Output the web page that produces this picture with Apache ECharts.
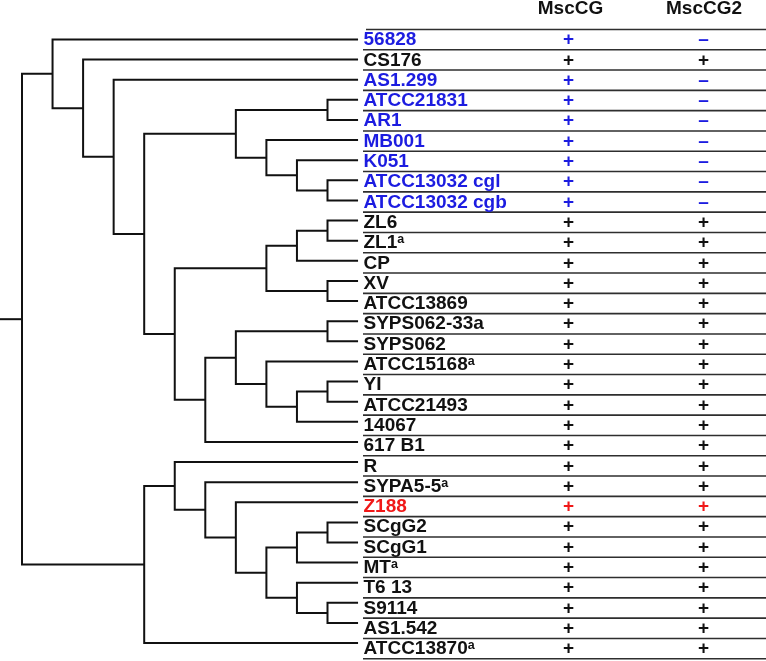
<!DOCTYPE html>
<html><head><meta charset="utf-8">
<script src="https://cdn.jsdelivr.net/npm/echarts@6/dist/echarts.min.js"></script>
<style>html,body{margin:0;padding:0;background:#fff}#c{width:766px;height:661px}</style>
</head><body><div id="c"></div>
<script>
// ---- data ----
const strains = ['56828','CS176','AS1.299','ATCC21831','AR1','MB001','K051','ATCC13032 cgl','ATCC13032 cgb','ZL6','ZL1','CP','XV','ATCC13869','SYPS062-33a','SYPS062','ATCC15168','YI','ATCC21493','14067','617 B1','R','SYPA5-5','Z188','SCgG2','SCgG1','MT','T6 13','S9114','AS1.542','ATCC13870'];
const strainFootnote = ['','','','','','','','','','','a','','','','','','a','','','','','','a','','','','a','','','','a'];
const strainGroup = ['blue','black','blue','blue','blue','blue','blue','blue','blue','black','black','black','black','black','black','black','black','black','black','black','black','black','black','red','black','black','black','black','black','black','black'];
const columns = ['MscCG','MscCG2'];
const mscCG  = ['+','+','+','+','+','+','+','+','+','+','+','+','+','+','+','+','+','+','+','+','+','+','+','+','+','+','+','+','+','+','+'];
const mscCG2 = ['–','+','–','–','–','–','–','–','–','+','+','+','+','+','+','+','+','+','+','+','+','+','+','+','+','+','+','+','+','+','+'];
// tree topology: internal nodes, their depth level and children (number = leaf index)
const nodeNames  = ['root','A','A2','A3','A4','A5','D','E','F','G','C','H','J','L','K','I','M','N','O','P','Q','B','R','S','T','U','V','X','W','Y'];
const nodeLevels = [0,1,2,3,4,7,10,8,9,10,5,8,9,10,10,6,7,10,8,9,10,4,5,6,7,8,9,10,9,10];
const nodeKids = [['A','B'],[0,'A2'],[1,'A3'],[2,'A4'],['A5','C'],['D','E'],[3,4],[5,'F'],[6,'G'],[7,8],
  ['H','I'],['J','K'],['L',11],[9,10],[12,13],['M',20],['N','O'],[14,15],[16,'P'],['Q',19],[17,18],
  ['R',30],[21,'S'],[22,'T'],[23,'U'],['V','W'],['X',26],[24,25],[27,'Y'],[28,29]];
const leafLevel = 11;

// ---- layout constants (axis units) ----
const W = 766, H = 661;
const xUnit = 30.55, xOrigin = 22;
const xMin = -xOrigin / xUnit, xMax = xMin + W / xUnit;
const treeStep = 20.12, treeFirst = 39.5;
const tMin = -treeFirst / treeStep, tMax = tMin + H / treeStep;
const rowStep = 20.3, rowFirst = 40;
const rMin = -rowFirst / rowStep, rMax = rMin + H / rowStep;
const px = v => (v - xOrigin) / xUnit;
const labelX = px(363.5), lineX = px(363), topLineX = px(366), col1X = px(568.5), col2X = px(703.5);
const colors = {blue: '#1c1ce0', black: '#111111', red: '#f01818'};
const FONT = '"Liberation Sans", Arial, Helvetica, sans-serif';

// ---- build tree segments ----
const idx = {}; nodeNames.forEach((n, i) => idx[n] = i);
const yOf = k => typeof k === 'number' ? k : nodeY(idx[k]);
const xOf = k => typeof k === 'number' ? leafLevel : nodeLevels[idx[k]];
const cacheY = {};
function nodeY(i) {
  if (cacheY[i] !== undefined) return cacheY[i];
  const [a, b] = nodeKids[i];
  return cacheY[i] = (yOf(a) + yOf(b)) / 2;
}
const treeData = nodeKids.map((kids, i) => {
  const [a, b] = kids, lx = nodeLevels[i];
  return [xOf(a), yOf(a), lx, yOf(a), lx, yOf(b), xOf(b), yOf(b)];
});
const ry = nodeY(0);
treeData.push([xMin, ry, 0, ry, 0, ry, 0, ry]);

const rowLines = []; for (let k = 0; k <= strains.length; k++) rowLines.push([k === 0 ? topLineX : lineX, k - 0.52]);
const labelData = strains.map((s, i) => [labelX, i]);
const markData = [];
strains.forEach((s, i) => { markData.push([col1X, i, 0]); markData.push([col2X, i, 1]); });
const headData = columns.map((c, i) => [i === 0 ? px(570.5) : px(704), -1.53]);

const chart = echarts.init(document.getElementById('c'), null, {renderer: 'canvas'});
chart.setOption({
  animation: false,
  grid: [{left: 0, top: 0, width: W, height: H}],
  xAxis: [{type: 'value', min: xMin, max: xMax, show: false}],
  yAxis: [
    {type: 'value', min: tMin, max: tMax, inverse: true, show: false},
    {type: 'value', min: rMin, max: rMax, inverse: true, show: false}
  ],
  series: [
    {
      type: 'custom', xAxisIndex: 0, yAxisIndex: 0, clip: false,
      dimensions: ['x0','y0','x1','y1','x2','y2','x3','y3'],
      encode: {x: [0,2,4,6], y: [1,3,5,7]},
      data: treeData,
      renderItem: (p, api) => {
        const pts = [0,1,2,3].map(k => api.coord([api.value(2*k), api.value(2*k+1)]));
        return {type: 'polyline', shape: {points: pts}, style: {stroke: '#111', lineWidth: 2, fill: null}};
      }
    },
    {
      type: 'custom', xAxisIndex: 0, yAxisIndex: 1, clip: false,
      encode: {x: 0, y: 1}, data: rowLines,
      renderItem: (p, api) => {
        const a = api.coord([api.value(0), api.value(1)]);
        const b = api.coord([xMax, api.value(1)]);
        return {type: 'line', shape: {x1: a[0], y1: a[1], x2: b[0], y2: b[1]}, style: {stroke: '#2e2e2e', lineWidth: 1.6}};
      }
    },
    {
      type: 'custom', xAxisIndex: 0, yAxisIndex: 1, clip: false,
      encode: {x: 0, y: 1}, data: labelData,
      renderItem: (p, api) => {
        const i = p.dataIndex;
        const c = api.coord([api.value(0), api.value(1)]);
        const col = colors[strainGroup[i]];
        const txt = strainFootnote[i] ? '{n|' + strains[i] + '}{s|' + strainFootnote[i] + '}' : '{n|' + strains[i] + '}';
        return {type: 'text', x: c[0], y: c[1], style: {
          text: txt, align: 'left', verticalAlign: 'middle', fill: col,
          rich: {
            n: {fontFamily: FONT, fontWeight: 'bold', fontSize: 19, lineHeight: 20, fill: col, color: col},
            s: {fontFamily: FONT, fontWeight: 'bold', fontSize: 12.5, lineHeight: 13, verticalAlign: 'top', fill: col, color: col}
          }
        }};
      }
    },
    {
      type: 'custom', xAxisIndex: 0, yAxisIndex: 1, clip: false,
      encode: {x: 0, y: 1}, data: markData,
      renderItem: (p, api) => {
        const i = api.value(1), colIdx = api.value(2);
        const c = api.coord([api.value(0), i]);
        const t = colIdx === 0 ? mscCG[i] : mscCG2[i];
        return {type: 'text', x: c[0], y: c[1], style: {
          text: t, align: 'center', verticalAlign: 'middle', fill: colors[strainGroup[i]],
          font: 'bold 19px ' + FONT
        }};
      }
    },
    {
      type: 'custom', xAxisIndex: 0, yAxisIndex: 1, clip: false,
      encode: {x: 0, y: 1}, data: headData,
      renderItem: (p, api) => {
        const c = api.coord([api.value(0), api.value(1)]);
        return {type: 'text', x: c[0], y: c[1], style: {
          text: columns[p.dataIndex], align: 'center', verticalAlign: 'middle', fill: '#111',
          font: 'bold 19px ' + FONT
        }};
      }
    }
  ]
});
</script></body></html>
